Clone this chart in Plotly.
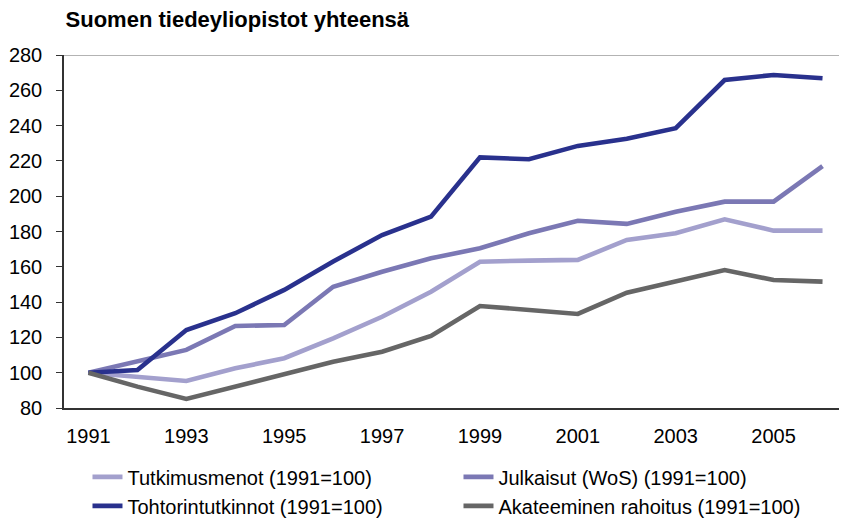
import plotly.graph_objects as go

# vuodet ja indeksit (1991=100), luettu kuvasta
years = list(range(1991, 2007))
tutkimusmenot = [100, 97.7, 95.3, 102.5, 108.2, 119.5, 131.7, 145.9, 162.9, 163.5, 163.9, 175.2, 179.0, 186.9, 180.5, 180.5]
julkaisut = [100, 106.2, 112.9, 126.5, 127.0, 148.7, 157.2, 164.8, 170.5, 179.0, 186.1, 184.3, 191.2, 196.9, 196.9, 217.1]
tohtorintutkinnot = [100, 101.5, 124.2, 133.7, 146.9, 163.0, 178.0, 188.4, 222.0, 220.9, 228.5, 232.6, 238.5, 265.8, 268.7, 266.8]
rahoitus = [100, 92.1, 85.1, 92.1, 98.7, 106.2, 111.9, 120.8, 137.8, 135.5, 133.3, 145.3, 151.6, 158.2, 152.5, 151.6]

labels = ["Tutkimusmenot (1991=100)", "Julkaisut (WoS) (1991=100)",
          "Tohtorintutkinnot (1991=100)", "Akateeminen rahoitus (1991=100)"]
series = [tutkimusmenot, julkaisut, tohtorintutkinnot, rahoitus]
colors = ["#A3A0CD", "#7B78B4", "#29318D", "#666666"]

y_ticks = list(range(80, 281, 20))
x_labels = years[::2]
x_bounds = [y - 0.5 for y in years] + [years[-1] + 0.5]

FONT = "Liberation Sans, Arial, sans-serif"

fig = go.Figure()
for name, vals, col in zip(labels, series, colors):
    fig.add_trace(go.Scatter(x=years, y=vals, name=name, mode="lines",
                             line=dict(color=col, width=4.6)))

# sivun body-marginaali (8px) huomioitu koossa
fig.update_layout(
    width=839, height=513,
    margin=dict(l=56, r=0, t=47, b=113, autoexpand=False),
    plot_bgcolor="white", paper_bgcolor="white",
    font=dict(family=FONT, size=20, color="black"),
    title=dict(text="<b>Suomen tiedeyliopistot yhteensä</b>", x=0.002, xref="paper",
               xanchor="left", y=0.978, yanchor="middle",
               font=dict(family=FONT, size=22, color="black")),
    showlegend=True,
    legend=dict(orientation="h", x=0.03, y=0.124, yref="container",
                xanchor="left", yanchor="top",
                entrywidth=326, entrywidthmode="pixels",
                font=dict(family=FONT, size=20), tracegroupgap=0),
    xaxis=dict(range=[years[0] - 0.5, years[-1] + 0.5], tickvals=x_labels,
               ticks="outside", ticklen=9, tickcolor="rgba(0,0,0,0)",
               showline=True, linecolor="#333333", linewidth=1.5,
               showgrid=False, zeroline=False, automargin=False),
    xaxis2=dict(range=[years[0] - 0.5, years[-1] + 0.5], overlaying="x", anchor="y",
                side="bottom", tickvals=x_bounds, ticks="outside", ticklen=6,
                tickcolor="#333333", tickwidth=1.2, showticklabels=False,
                showline=False, showgrid=False, zeroline=False),
    yaxis=dict(range=[80, 280], tickvals=y_ticks, ticks="outside", ticklen=6,
               tickcolor="#333333", tickwidth=1.2, ticklabelstandoff=10,
               showline=True, linecolor="#333333", linewidth=1.5,
               showgrid=False, zeroline=False, automargin=False),
)

# ylärajan harmaa viiva
fig.add_shape(type="line", xref="paper", yref="y", x0=0, x1=1, y0=280, y1=280,
              line=dict(color="#9A9A9A", width=1.5), layer="below")

fig.write_html("out.html")
